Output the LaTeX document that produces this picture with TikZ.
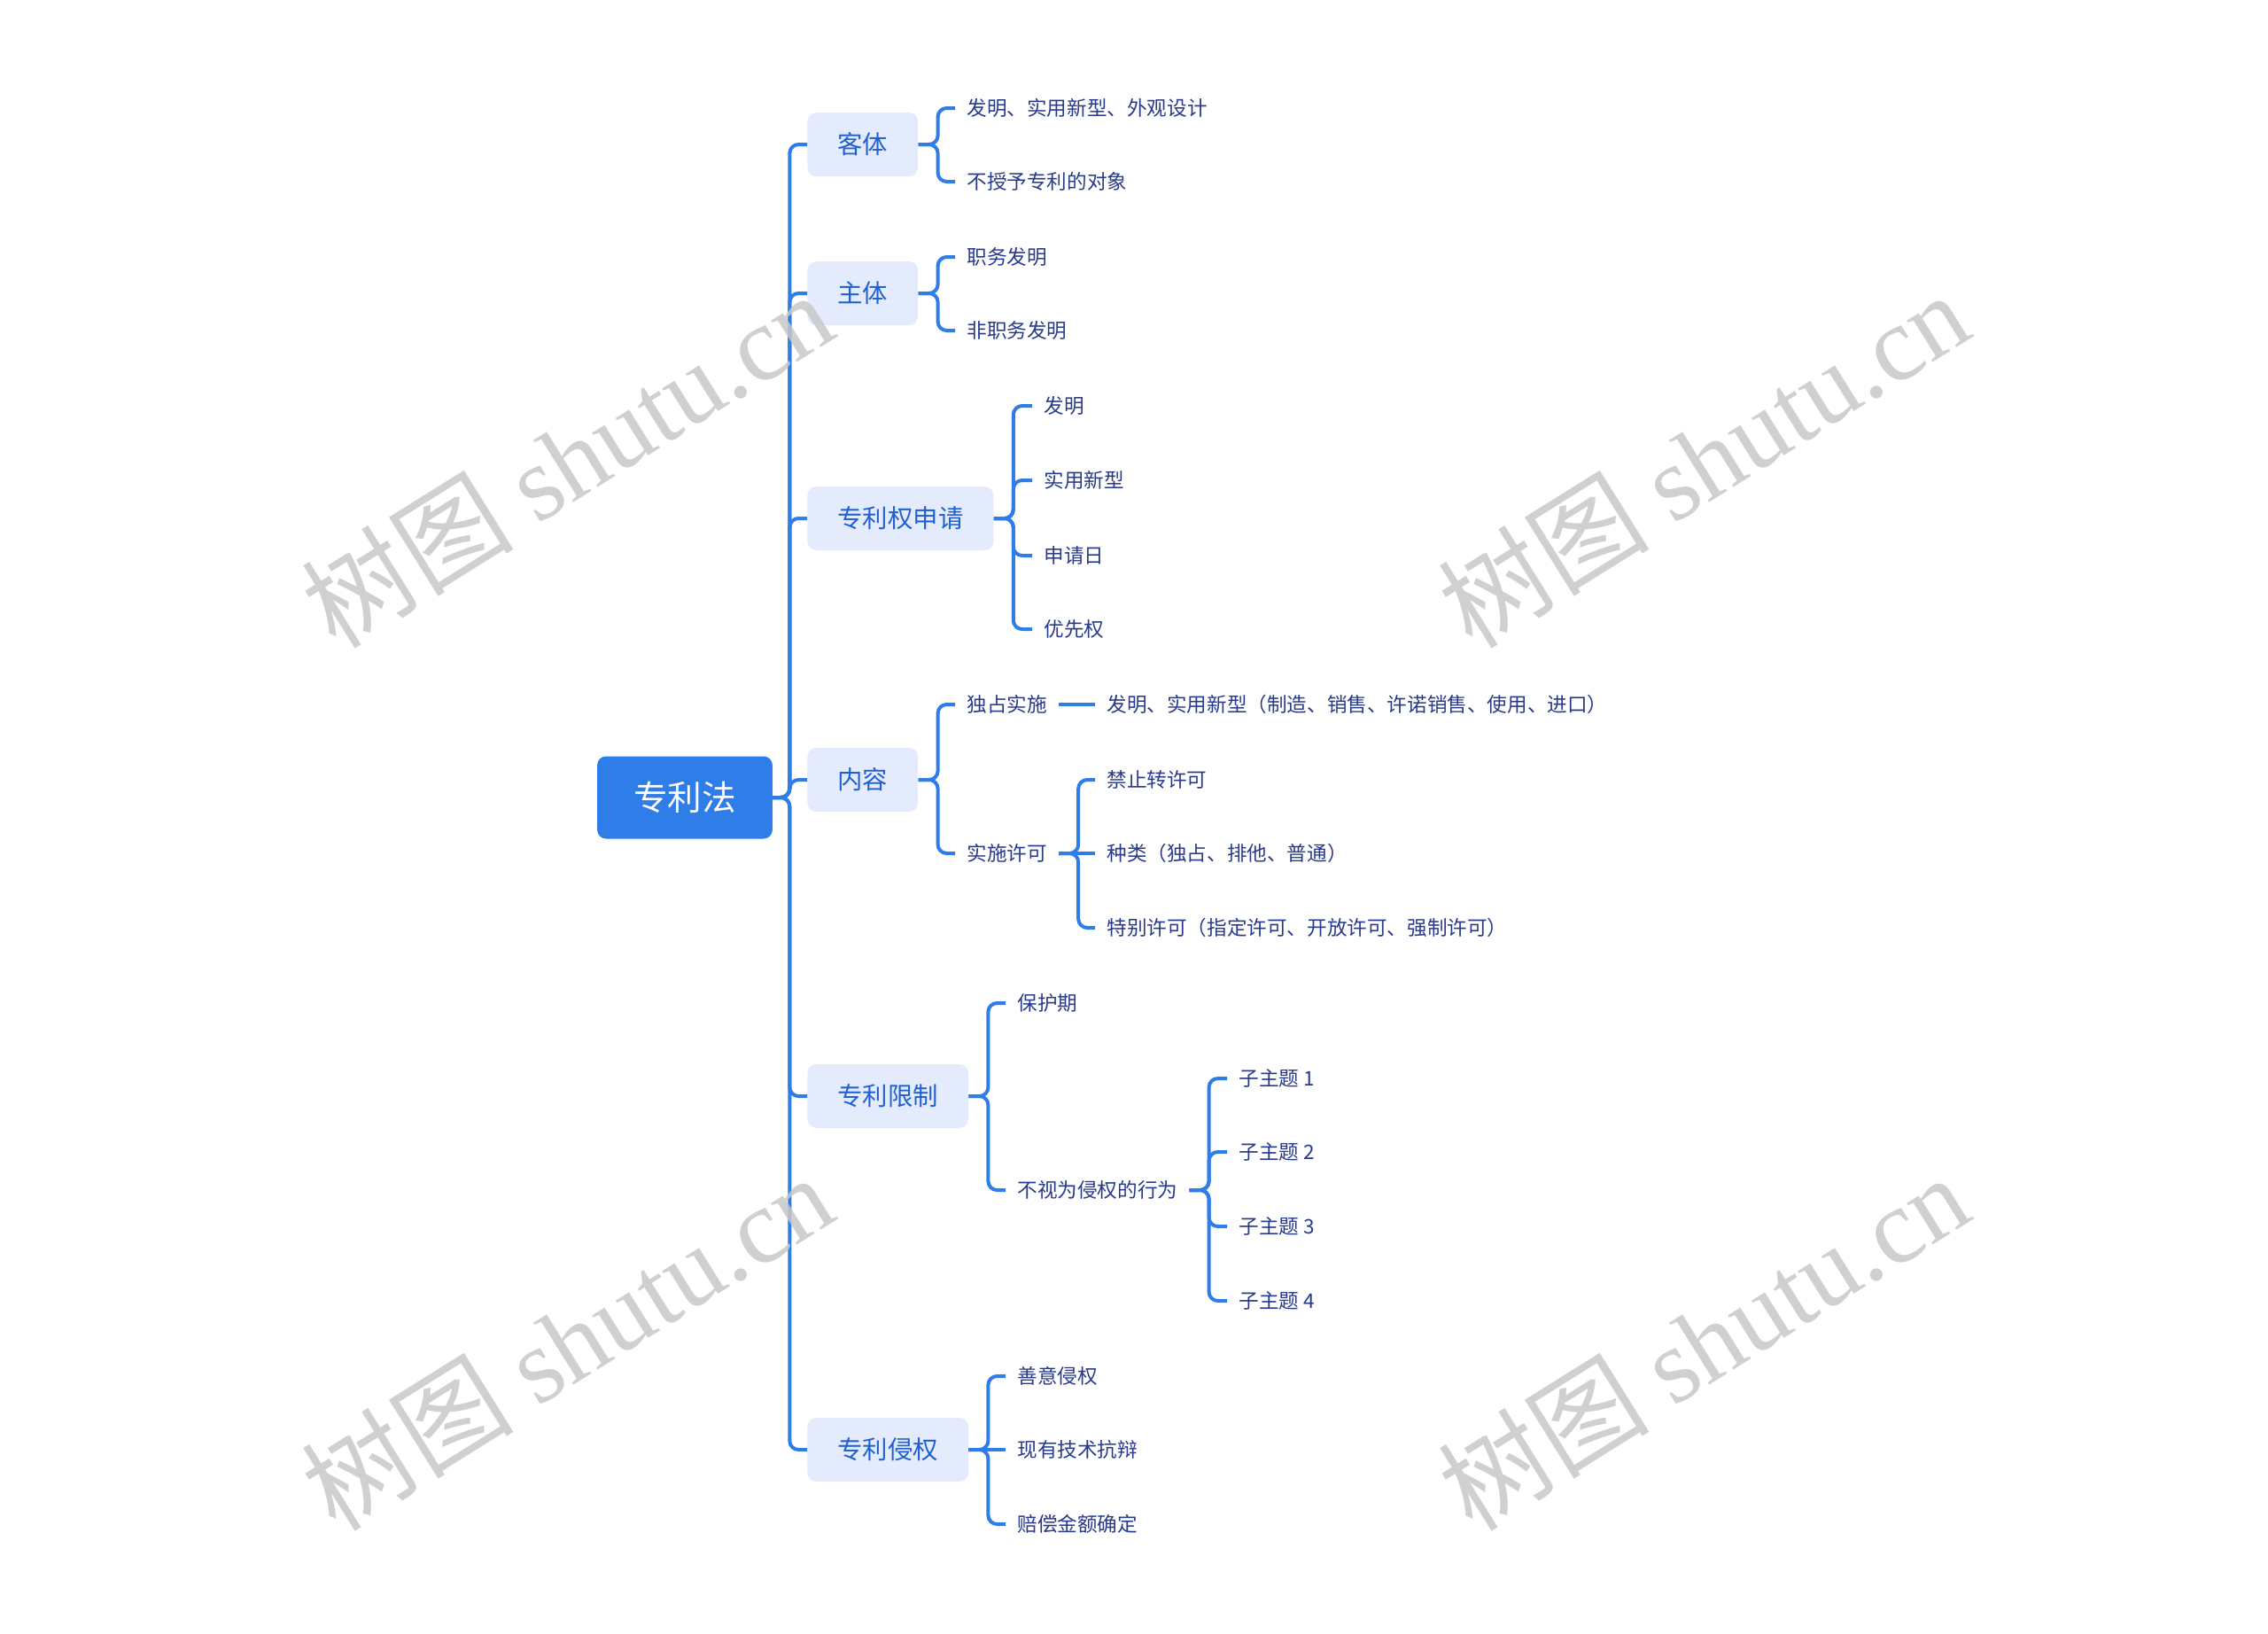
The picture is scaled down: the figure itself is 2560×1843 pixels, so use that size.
\documentclass[tikz,border=0pt]{standalone}
\usepackage{fontspec}
\setmainfont{Noto Sans CJK SC}
\newfontfamily\wmfont{Liberation Serif}
\definecolor{linkblue}{RGB}{47,125,232}
\definecolor{topicfill}{RGB}{228,235,253}
\definecolor{topictext}{RGB}{32,96,210}
\definecolor{leaftext}{RGB}{40,58,140}
\definecolor{wmgray}{RGB}{200,200,200}
\begin{document}
\begin{tikzpicture}[x=0.5pt, y=-0.5pt,
    rootbox/.style={fill=linkblue, text=white, rounded corners=5pt, font=\fontsize{19.3}{22}\selectfont, inner xsep=20.5pt, inner ysep=0pt, minimum height=46.5pt},
    topic/.style={fill=topicfill, text=topictext, rounded corners=5pt, font=\fontsize{14.2}{17}\selectfont, inner xsep=17pt, inner ysep=0pt, minimum height=36pt, anchor=west},
    leaf/.style={text=leaftext, font=\fontsize{11.3}{13}\selectfont, inner xsep=6.5pt, inner ysep=2pt, anchor=west},
    link/.style={draw=linkblue, line width=2pt, rounded corners=5pt},
    wmark/.style={text=wmgray, opacity=0.85, font=\fontsize{60}{66}\selectfont, rotate=32}]
    \useasboundingbox (0,0) rectangle (2560,1843);
    % Root
    \node[rootbox] (root) at (773,900) {专利法};
    % Main topics
    \node[topic] (keti) at (911,163) {客体};
    \node[topic] (zhuti) at (911,331) {主体};
    \node[topic] (shenqing) at (911,585) {专利权申请};
    \node[topic] (neirong) at (911,880) {内容};
    \node[topic] (xianzhi) at (911,1237) {专利限制};
    \node[topic] (qinquan) at (911,1636) {专利侵权};
    \foreach \t in {keti,zhuti,shenqing,neirong,xianzhi,qinquan}
        \draw[link] (root.east) -- ++(19,0) |- (\t.west);
    % 客体
    \node[leaf] (keti1) at (1078,122) {发明、实用新型、外观设计};
    \node[leaf] (keti2) at (1078,205) {不授予专利的对象};
    \foreach \c in {keti1,keti2}
        \draw[link] (keti.east) -- ++(22,0) |- (\c.west);
    % 主体
    \node[leaf] (zhuti1) at (1078,290) {职务发明};
    \node[leaf] (zhuti2) at (1078,373) {非职务发明};
    \foreach \c in {zhuti1,zhuti2}
        \draw[link] (zhuti.east) -- ++(22,0) |- (\c.west);
    % 专利权申请
    \node[leaf] (shenqing1) at (1165,458) {发明};
    \node[leaf] (shenqing2) at (1165,542) {实用新型};
    \node[leaf] (shenqing3) at (1165,627) {申请日};
    \node[leaf] (shenqing4) at (1165,710) {优先权};
    \foreach \c in {shenqing1,shenqing2,shenqing3,shenqing4}
        \draw[link] (shenqing.east) -- ++(22,0) |- (\c.west);
    % 内容
    \node[leaf] (duzhan) at (1078,795) {独占实施};
    \node[leaf] (xuke) at (1078,963) {实施许可};
    \foreach \c in {duzhan,xuke}
        \draw[link] (neirong.east) -- ++(22,0) |- (\c.west);
    \node[leaf] (duzhan1) at (1236,795) {发明、实用新型（制造、销售、许诺销售、使用、进口）};
    \draw[link] (duzhan.east) -- (duzhan1.west);
    \node[leaf] (xuke1) at (1236,880) {禁止转许可};
    \node[leaf] (xuke2) at (1236,963) {种类（独占、排他、普通）};
    \node[leaf] (xuke3) at (1236,1047) {特别许可（指定许可、开放许可、强制许可）};
    \foreach \c in {xuke1,xuke3}
        \draw[link] (xuke.east) -- ++(22,0) |- (\c.west);
    \draw[link] (xuke.east) -- (xuke2.west);
    % 专利限制
    \node[leaf] (baohu) at (1135,1132) {保护期};
    \node[leaf] (bushi) at (1135,1343) {不视为侵权的行为};
    \foreach \c in {baohu,bushi}
        \draw[link] (xianzhi.east) -- ++(22,0) |- (\c.west);
    \node[leaf] (sub1) at (1385,1217) {子主题 1};
    \node[leaf] (sub2) at (1385,1300) {子主题 2};
    \node[leaf] (sub3) at (1385,1384) {子主题 3};
    \node[leaf] (sub4) at (1385,1468) {子主题 4};
    \foreach \c in {sub1,sub2,sub3,sub4}
        \draw[link] (bushi.east) -- ++(22,0) |- (\c.west);
    % 专利侵权
    \node[leaf] (qinquan1) at (1135,1553) {善意侵权};
    \node[leaf] (qinquan2) at (1135,1636) {现有技术抗辩};
    \node[leaf] (qinquan3) at (1135,1720) {赔偿金额确定};
    \foreach \c in {qinquan1,qinquan3}
        \draw[link] (qinquan.east) -- ++(22,0) |- (\c.west);
    \draw[link] (qinquan.east) -- (qinquan2.west);
    % Watermarks
    \node[wmark] (wm1) at (640,518) {树图 {\wmfont shutu.cn}};
    \node[wmark] (wm2) at (1922,518) {树图 {\wmfont shutu.cn}};
    \node[wmark] (wm3) at (640,1514) {树图 {\wmfont shutu.cn}};
    \node[wmark] (wm4) at (1922,1514) {树图 {\wmfont shutu.cn}};
\end{tikzpicture}
\end{document}
